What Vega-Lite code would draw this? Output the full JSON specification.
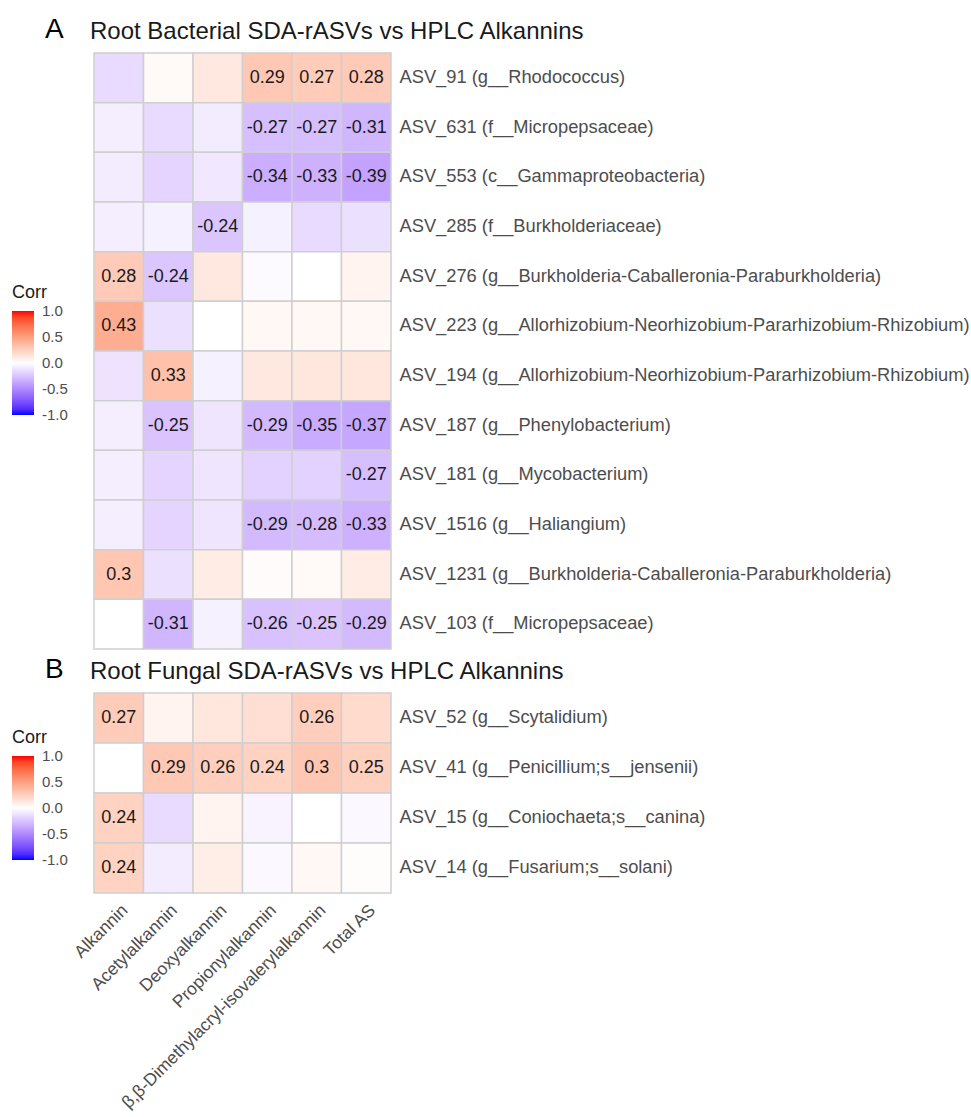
{
  "$schema": "https://vega.github.io/schema/vega-lite/v6.json",
  "background": "white",
  "padding": {"left": 12, "top": 16, "right": 2, "bottom": 5},
  "config": {
    "font": "Liberation Sans",
    "view": {"stroke": null},
    "locale": {"number": {"decimal": ".", "thousands": ",", "grouping": [3], "currency": ["$", ""], "minus": "-"}},
    "concat": {"spacing": 6},
    "axis": {"grid": false, "domain": false, "ticks": false, "labelFont": "Liberation Sans", "labelColor": "#4D4D4D", "labelFontSize": 18.3},
    "legend": {"titleFont": "Liberation Sans", "titleFontSize": 18, "titleFontWeight": "normal", "titleColor": "#1A1A1A", "labelFontSize": 15, "labelColor": "#4D4D4D", "labelOverlap": false}
  },
  "resolve": {"scale": {"color": "independent"}, "legend": {"color": "independent"}},
  "datasets": {
    "bact": [
      {"asv": "ASV_91 (g__Rhodococcus)", "cmp": "Alkannin", "corr": -0.15, "sig": false},
      {"asv": "ASV_91 (g__Rhodococcus)", "cmp": "Acetylalkannin", "corr": 0.03, "sig": false},
      {"asv": "ASV_91 (g__Rhodococcus)", "cmp": "Deoxyalkannin", "corr": 0.12, "sig": false},
      {"asv": "ASV_91 (g__Rhodococcus)", "cmp": "Propionylalkannin", "corr": 0.29, "sig": true},
      {"asv": "ASV_91 (g__Rhodococcus)", "cmp": "β,β-Dimethylacryl-isovalerylalkannin", "corr": 0.27, "sig": true},
      {"asv": "ASV_91 (g__Rhodococcus)", "cmp": "Total AS", "corr": 0.28, "sig": true},
      {"asv": "ASV_631 (f__Micropepsaceae)", "cmp": "Alkannin", "corr": -0.07, "sig": false},
      {"asv": "ASV_631 (f__Micropepsaceae)", "cmp": "Acetylalkannin", "corr": -0.15, "sig": false},
      {"asv": "ASV_631 (f__Micropepsaceae)", "cmp": "Deoxyalkannin", "corr": -0.08, "sig": false},
      {"asv": "ASV_631 (f__Micropepsaceae)", "cmp": "Propionylalkannin", "corr": -0.27, "sig": true},
      {"asv": "ASV_631 (f__Micropepsaceae)", "cmp": "β,β-Dimethylacryl-isovalerylalkannin", "corr": -0.27, "sig": true},
      {"asv": "ASV_631 (f__Micropepsaceae)", "cmp": "Total AS", "corr": -0.31, "sig": true},
      {"asv": "ASV_553 (c__Gammaproteobacteria)", "cmp": "Alkannin", "corr": -0.08, "sig": false},
      {"asv": "ASV_553 (c__Gammaproteobacteria)", "cmp": "Acetylalkannin", "corr": -0.18, "sig": false},
      {"asv": "ASV_553 (c__Gammaproteobacteria)", "cmp": "Deoxyalkannin", "corr": -0.1, "sig": false},
      {"asv": "ASV_553 (c__Gammaproteobacteria)", "cmp": "Propionylalkannin", "corr": -0.34, "sig": true},
      {"asv": "ASV_553 (c__Gammaproteobacteria)", "cmp": "β,β-Dimethylacryl-isovalerylalkannin", "corr": -0.33, "sig": true},
      {"asv": "ASV_553 (c__Gammaproteobacteria)", "cmp": "Total AS", "corr": -0.39, "sig": true},
      {"asv": "ASV_285 (f__Burkholderiaceae)", "cmp": "Alkannin", "corr": -0.07, "sig": false},
      {"asv": "ASV_285 (f__Burkholderiaceae)", "cmp": "Acetylalkannin", "corr": -0.06, "sig": false},
      {"asv": "ASV_285 (f__Burkholderiaceae)", "cmp": "Deoxyalkannin", "corr": -0.24, "sig": true},
      {"asv": "ASV_285 (f__Burkholderiaceae)", "cmp": "Propionylalkannin", "corr": -0.06, "sig": false},
      {"asv": "ASV_285 (f__Burkholderiaceae)", "cmp": "β,β-Dimethylacryl-isovalerylalkannin", "corr": -0.15, "sig": false},
      {"asv": "ASV_285 (f__Burkholderiaceae)", "cmp": "Total AS", "corr": -0.13, "sig": false},
      {"asv": "ASV_276 (g__Burkholderia-Caballeronia-Paraburkholderia)", "cmp": "Alkannin", "corr": 0.28, "sig": true},
      {"asv": "ASV_276 (g__Burkholderia-Caballeronia-Paraburkholderia)", "cmp": "Acetylalkannin", "corr": -0.24, "sig": true},
      {"asv": "ASV_276 (g__Burkholderia-Caballeronia-Paraburkholderia)", "cmp": "Deoxyalkannin", "corr": 0.12, "sig": false},
      {"asv": "ASV_276 (g__Burkholderia-Caballeronia-Paraburkholderia)", "cmp": "Propionylalkannin", "corr": -0.02, "sig": false},
      {"asv": "ASV_276 (g__Burkholderia-Caballeronia-Paraburkholderia)", "cmp": "β,β-Dimethylacryl-isovalerylalkannin", "corr": 0.0, "sig": false},
      {"asv": "ASV_276 (g__Burkholderia-Caballeronia-Paraburkholderia)", "cmp": "Total AS", "corr": 0.06, "sig": false},
      {"asv": "ASV_223 (g__Allorhizobium-Neorhizobium-Pararhizobium-Rhizobium)", "cmp": "Alkannin", "corr": 0.43, "sig": true},
      {"asv": "ASV_223 (g__Allorhizobium-Neorhizobium-Pararhizobium-Rhizobium)", "cmp": "Acetylalkannin", "corr": -0.13, "sig": false},
      {"asv": "ASV_223 (g__Allorhizobium-Neorhizobium-Pararhizobium-Rhizobium)", "cmp": "Deoxyalkannin", "corr": 0.0, "sig": false},
      {"asv": "ASV_223 (g__Allorhizobium-Neorhizobium-Pararhizobium-Rhizobium)", "cmp": "Propionylalkannin", "corr": 0.04, "sig": false},
      {"asv": "ASV_223 (g__Allorhizobium-Neorhizobium-Pararhizobium-Rhizobium)", "cmp": "β,β-Dimethylacryl-isovalerylalkannin", "corr": 0.04, "sig": false},
      {"asv": "ASV_223 (g__Allorhizobium-Neorhizobium-Pararhizobium-Rhizobium)", "cmp": "Total AS", "corr": 0.04, "sig": false},
      {"asv": "ASV_194 (g__Allorhizobium-Neorhizobium-Pararhizobium-Rhizobium)", "cmp": "Alkannin", "corr": -0.12, "sig": false},
      {"asv": "ASV_194 (g__Allorhizobium-Neorhizobium-Pararhizobium-Rhizobium)", "cmp": "Acetylalkannin", "corr": 0.33, "sig": true},
      {"asv": "ASV_194 (g__Allorhizobium-Neorhizobium-Pararhizobium-Rhizobium)", "cmp": "Deoxyalkannin", "corr": -0.06, "sig": false},
      {"asv": "ASV_194 (g__Allorhizobium-Neorhizobium-Pararhizobium-Rhizobium)", "cmp": "Propionylalkannin", "corr": 0.12, "sig": false},
      {"asv": "ASV_194 (g__Allorhizobium-Neorhizobium-Pararhizobium-Rhizobium)", "cmp": "β,β-Dimethylacryl-isovalerylalkannin", "corr": 0.13, "sig": false},
      {"asv": "ASV_194 (g__Allorhizobium-Neorhizobium-Pararhizobium-Rhizobium)", "cmp": "Total AS", "corr": 0.13, "sig": false},
      {"asv": "ASV_187 (g__Phenylobacterium)", "cmp": "Alkannin", "corr": -0.07, "sig": false},
      {"asv": "ASV_187 (g__Phenylobacterium)", "cmp": "Acetylalkannin", "corr": -0.25, "sig": true},
      {"asv": "ASV_187 (g__Phenylobacterium)", "cmp": "Deoxyalkannin", "corr": -0.11, "sig": false},
      {"asv": "ASV_187 (g__Phenylobacterium)", "cmp": "Propionylalkannin", "corr": -0.29, "sig": true},
      {"asv": "ASV_187 (g__Phenylobacterium)", "cmp": "β,β-Dimethylacryl-isovalerylalkannin", "corr": -0.35, "sig": true},
      {"asv": "ASV_187 (g__Phenylobacterium)", "cmp": "Total AS", "corr": -0.37, "sig": true},
      {"asv": "ASV_181 (g__Mycobacterium)", "cmp": "Alkannin", "corr": -0.07, "sig": false},
      {"asv": "ASV_181 (g__Mycobacterium)", "cmp": "Acetylalkannin", "corr": -0.18, "sig": false},
      {"asv": "ASV_181 (g__Mycobacterium)", "cmp": "Deoxyalkannin", "corr": -0.11, "sig": false},
      {"asv": "ASV_181 (g__Mycobacterium)", "cmp": "Propionylalkannin", "corr": -0.19, "sig": false},
      {"asv": "ASV_181 (g__Mycobacterium)", "cmp": "β,β-Dimethylacryl-isovalerylalkannin", "corr": -0.19, "sig": false},
      {"asv": "ASV_181 (g__Mycobacterium)", "cmp": "Total AS", "corr": -0.27, "sig": true},
      {"asv": "ASV_1516 (g__Haliangium)", "cmp": "Alkannin", "corr": -0.07, "sig": false},
      {"asv": "ASV_1516 (g__Haliangium)", "cmp": "Acetylalkannin", "corr": -0.18, "sig": false},
      {"asv": "ASV_1516 (g__Haliangium)", "cmp": "Deoxyalkannin", "corr": -0.11, "sig": false},
      {"asv": "ASV_1516 (g__Haliangium)", "cmp": "Propionylalkannin", "corr": -0.29, "sig": true},
      {"asv": "ASV_1516 (g__Haliangium)", "cmp": "β,β-Dimethylacryl-isovalerylalkannin", "corr": -0.28, "sig": true},
      {"asv": "ASV_1516 (g__Haliangium)", "cmp": "Total AS", "corr": -0.33, "sig": true},
      {"asv": "ASV_1231 (g__Burkholderia-Caballeronia-Paraburkholderia)", "cmp": "Alkannin", "corr": 0.3, "sig": true},
      {"asv": "ASV_1231 (g__Burkholderia-Caballeronia-Paraburkholderia)", "cmp": "Acetylalkannin", "corr": -0.13, "sig": false},
      {"asv": "ASV_1231 (g__Burkholderia-Caballeronia-Paraburkholderia)", "cmp": "Deoxyalkannin", "corr": 0.1, "sig": false},
      {"asv": "ASV_1231 (g__Burkholderia-Caballeronia-Paraburkholderia)", "cmp": "Propionylalkannin", "corr": 0.02, "sig": false},
      {"asv": "ASV_1231 (g__Burkholderia-Caballeronia-Paraburkholderia)", "cmp": "β,β-Dimethylacryl-isovalerylalkannin", "corr": 0.03, "sig": false},
      {"asv": "ASV_1231 (g__Burkholderia-Caballeronia-Paraburkholderia)", "cmp": "Total AS", "corr": 0.1, "sig": false},
      {"asv": "ASV_103 (f__Micropepsaceae)", "cmp": "Alkannin", "corr": 0.0, "sig": false},
      {"asv": "ASV_103 (f__Micropepsaceae)", "cmp": "Acetylalkannin", "corr": -0.31, "sig": true},
      {"asv": "ASV_103 (f__Micropepsaceae)", "cmp": "Deoxyalkannin", "corr": -0.06, "sig": false},
      {"asv": "ASV_103 (f__Micropepsaceae)", "cmp": "Propionylalkannin", "corr": -0.26, "sig": true},
      {"asv": "ASV_103 (f__Micropepsaceae)", "cmp": "β,β-Dimethylacryl-isovalerylalkannin", "corr": -0.25, "sig": true},
      {"asv": "ASV_103 (f__Micropepsaceae)", "cmp": "Total AS", "corr": -0.29, "sig": true}
    ],
    "fung": [
      {"asv": "ASV_52 (g__Scytalidium)", "cmp": "Alkannin", "corr": 0.27, "sig": true},
      {"asv": "ASV_52 (g__Scytalidium)", "cmp": "Acetylalkannin", "corr": 0.06, "sig": false},
      {"asv": "ASV_52 (g__Scytalidium)", "cmp": "Deoxyalkannin", "corr": 0.13, "sig": false},
      {"asv": "ASV_52 (g__Scytalidium)", "cmp": "Propionylalkannin", "corr": 0.17, "sig": false},
      {"asv": "ASV_52 (g__Scytalidium)", "cmp": "β,β-Dimethylacryl-isovalerylalkannin", "corr": 0.26, "sig": true},
      {"asv": "ASV_52 (g__Scytalidium)", "cmp": "Total AS", "corr": 0.19, "sig": false},
      {"asv": "ASV_41 (g__Penicillium;s__jensenii)", "cmp": "Alkannin", "corr": 0.0, "sig": false},
      {"asv": "ASV_41 (g__Penicillium;s__jensenii)", "cmp": "Acetylalkannin", "corr": 0.29, "sig": true},
      {"asv": "ASV_41 (g__Penicillium;s__jensenii)", "cmp": "Deoxyalkannin", "corr": 0.26, "sig": true},
      {"asv": "ASV_41 (g__Penicillium;s__jensenii)", "cmp": "Propionylalkannin", "corr": 0.24, "sig": true},
      {"asv": "ASV_41 (g__Penicillium;s__jensenii)", "cmp": "β,β-Dimethylacryl-isovalerylalkannin", "corr": 0.3, "sig": true},
      {"asv": "ASV_41 (g__Penicillium;s__jensenii)", "cmp": "Total AS", "corr": 0.25, "sig": true},
      {"asv": "ASV_15 (g__Coniochaeta;s__canina)", "cmp": "Alkannin", "corr": 0.24, "sig": true},
      {"asv": "ASV_15 (g__Coniochaeta;s__canina)", "cmp": "Acetylalkannin", "corr": -0.15, "sig": false},
      {"asv": "ASV_15 (g__Coniochaeta;s__canina)", "cmp": "Deoxyalkannin", "corr": 0.06, "sig": false},
      {"asv": "ASV_15 (g__Coniochaeta;s__canina)", "cmp": "Propionylalkannin", "corr": -0.05, "sig": false},
      {"asv": "ASV_15 (g__Coniochaeta;s__canina)", "cmp": "β,β-Dimethylacryl-isovalerylalkannin", "corr": 0.0, "sig": false},
      {"asv": "ASV_15 (g__Coniochaeta;s__canina)", "cmp": "Total AS", "corr": -0.03, "sig": false},
      {"asv": "ASV_14 (g__Fusarium;s__solani)", "cmp": "Alkannin", "corr": 0.24, "sig": true},
      {"asv": "ASV_14 (g__Fusarium;s__solani)", "cmp": "Acetylalkannin", "corr": -0.08, "sig": false},
      {"asv": "ASV_14 (g__Fusarium;s__solani)", "cmp": "Deoxyalkannin", "corr": 0.09, "sig": false},
      {"asv": "ASV_14 (g__Fusarium;s__solani)", "cmp": "Propionylalkannin", "corr": -0.03, "sig": false},
      {"asv": "ASV_14 (g__Fusarium;s__solani)", "cmp": "β,β-Dimethylacryl-isovalerylalkannin", "corr": 0.04, "sig": false},
      {"asv": "ASV_14 (g__Fusarium;s__solani)", "cmp": "Total AS", "corr": 0.01, "sig": false}
    ]
  },
  "vconcat": [
    {
      "title": {"text": "A", "anchor": "start", "fontSize": 28, "fontWeight": "normal", "color": "#000000", "dx": 33, "dy": 24, "offset": 0},
      "vconcat": [
        {
          "width": 297,
          "height": 596,
          "data": {"name": "bact"},
          "title": {"text": "Root Bacterial SDA-rASVs vs HPLC Alkannins", "anchor": "start", "frame": "group", "fontSize": 24, "fontWeight": "normal", "color": "#1A1A1A", "offset": 8, "dx": -4},
          "encoding": {
            "x": {"field": "cmp", "type": "nominal", "sort": ["Alkannin", "Acetylalkannin", "Deoxyalkannin", "Propionylalkannin", "β,β-Dimethylacryl-isovalerylalkannin", "Total AS"], "axis": null},
            "y": {"field": "asv", "type": "nominal", "sort": null, "title": null, "axis": {"orient": "right", "labelPadding": 8, "labelLimit": 700}}
          },
          "layer": [
            {
              "mark": {"type": "rect", "stroke": "#CFCFCF", "strokeWidth": 1.5},
              "encoding": {
                "color": {"field": "corr", "type": "quantitative", "title": "Corr",
                  "scale": {"domain": [-1, 0, 1], "range": ["#0000FF", "#FFFFFF", "#FF0000"], "interpolate": "lab"},
                  "legend": {"orient": "none", "legendX": -82, "legendY": 231, "gradientLength": 104, "gradientThickness": 22, "values": [-1, -0.5, 0, 0.5, 1], "format": ".1f", "titlePadding": 9, "labelOffset": 8, "labelFontSize": 15, "titleFontSize": 18, "labelOverlap": false,
                    "encode": {"labels": {"update": {"baseline": {"value": "middle"}}}}}}
              }
            },
            {
              "transform": [{"filter": "datum.sig"}],
              "mark": {"type": "text", "fontSize": 18, "color": "#1A1A1A"},
              "encoding": {"text": {"field": "corr", "type": "quantitative", "format": ".2~f"}}
            }
          ]
        }
      ]
    },
    {
      "title": {"text": "B", "anchor": "start", "fontSize": 28, "fontWeight": "normal", "color": "#000000", "dx": 33, "dy": 24, "offset": 0},
      "vconcat": [
        {
          "width": 297,
          "height": 200,
          "data": {"name": "fung"},
          "title": {"text": "Root Fungal SDA-rASVs vs HPLC Alkannins", "anchor": "start", "frame": "group", "fontSize": 24, "fontWeight": "normal", "color": "#1A1A1A", "offset": 8, "dx": -4},
          "encoding": {
            "x": {"field": "cmp", "type": "nominal", "sort": ["Alkannin", "Acetylalkannin", "Deoxyalkannin", "Propionylalkannin", "β,β-Dimethylacryl-isovalerylalkannin", "Total AS"], "title": null, "axis": {"labelAngle": -45, "labelPadding": 8, "labelLimit": 400, "labelFontSize": 17.5}},
            "y": {"field": "asv", "type": "nominal", "sort": null, "title": null, "axis": {"orient": "right", "labelPadding": 8, "labelLimit": 700}}
          },
          "layer": [
            {
              "mark": {"type": "rect", "stroke": "#CFCFCF", "strokeWidth": 1.5},
              "encoding": {
                "color": {"field": "corr", "type": "quantitative", "title": "Corr",
                  "scale": {"domain": [-1, 0, 1], "range": ["#0000FF", "#FFFFFF", "#FF0000"], "interpolate": "lab"},
                  "legend": {"orient": "none", "legendX": -82, "legendY": 36, "gradientLength": 104, "gradientThickness": 22, "values": [-1, -0.5, 0, 0.5, 1], "format": ".1f", "titlePadding": 9, "labelOffset": 8, "labelFontSize": 15, "titleFontSize": 18, "labelOverlap": false,
                    "encode": {"labels": {"update": {"baseline": {"value": "middle"}}}}}}
              }
            },
            {
              "transform": [{"filter": "datum.sig"}],
              "mark": {"type": "text", "fontSize": 18, "color": "#1A1A1A"},
              "encoding": {"text": {"field": "corr", "type": "quantitative", "format": ".2~f"}}
            }
          ]
        }
      ]
    }
  ]
}
